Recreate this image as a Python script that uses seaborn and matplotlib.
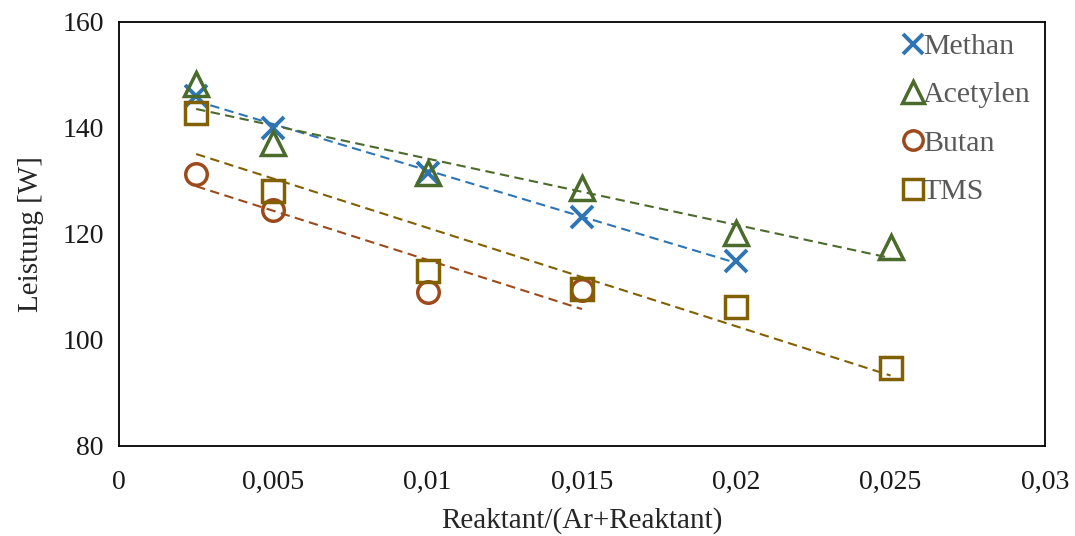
import numpy as np
import pandas as pd
import matplotlib
matplotlib.use("Agg")
import matplotlib.pyplot as plt
import seaborn as sns

# Measured output power vs. reactant fraction in the argon flow
methan_x = [0.0025, 0.005, 0.01, 0.015, 0.02]
methan_y = [146.0, 140.0, 131.5, 123.2, 114.9]

acetylen_x = [0.0025, 0.005, 0.01, 0.015, 0.02, 0.025]
acetylen_y = [148.3, 137.2, 131.5, 128.7, 120.2, 117.5]

butan_x = [0.0025, 0.005, 0.01, 0.015]
butan_y = [131.3, 124.5, 109.1, 109.4]

tms_x = [0.0025, 0.005, 0.01, 0.015, 0.02, 0.025]
tms_y = [142.8, 128.1, 113.0, 109.6, 106.2, 94.7]

series_names = ["Methan", "Acetylen", "Butan", "TMS"]
x_ticks = [0, 0.005, 0.01, 0.015, 0.02, 0.025, 0.03]
x_tick_labels = ["0", "0,005", "0,01", "0,015", "0,02", "0,025", "0,03"]
y_ticks = [80, 100, 120, 140, 160]

colors = {"Methan": "#2E75B6", "Acetylen": "#4B6B2C",
          "Butan": "#9C4A1C", "TMS": "#806000"}
markers = {"Methan": "x", "Acetylen": "^", "Butan": "o", "TMS": "s"}

data = {
    "Methan": (methan_x, methan_y),
    "Acetylen": (acetylen_x, acetylen_y),
    "Butan": (butan_x, butan_y),
    "TMS": (tms_x, tms_y),
}

sns.set_theme(style="white")
plt.rcParams["font.family"] = ["Liberation Serif", "DejaVu Serif"]

fig = plt.figure(figsize=(10.75, 5.36), dpi=100)
ax = fig.add_axes([0.1107, 0.168, 0.8613, 0.791])

# linear trend lines over each series' own range
for name in series_names:
    xs, ys = data[name]
    df = pd.DataFrame({"x": xs, "y": ys})
    sns.regplot(data=df, x="x", y="y", ax=ax, scatter=False, ci=None,
                truncate=True, color=colors[name],
                line_kws={"lw": 1.5, "dashes": (4.5, 2.6), "zorder": 2})

# hollow measurement markers
handles = []
for name in series_names:
    xs, ys = data[name]
    m = markers[name]
    if m == "x":
        h, = ax.plot(xs, ys, ls="none", marker="x", ms=16.5, mew=2.8,
                     color=colors[name], zorder=3, label=name)
    else:
        h, = ax.plot(xs, ys, ls="none", marker=m,
                     ms=17.5 if m == "^" else 15.5,
                     mew=2.5, mfc="none", mec=colors[name], zorder=3, label=name)
    handles.append(h)

ax.set_xlim(0, 0.03)
ax.set_ylim(80, 160)
ax.set_xticks(x_ticks)
ax.set_xticklabels(x_tick_labels)
ax.set_yticks(y_ticks)
ax.tick_params(axis="both", direction="in", length=7, width=1.2,
               labelsize=20, colors="black", labelcolor="#1a1a1a")
ax.tick_params(axis="x", pad=17)
ax.tick_params(axis="y", pad=11)

for sp in ax.spines.values():
    sp.set_visible(True)
    sp.set_color("black")
    sp.set_linewidth(1.3)

ax.set_xlabel("Reaktant/(Ar+Reaktant)", fontsize=21, color="#262626", labelpad=9)
ax.set_ylabel("Leistung [W]", fontsize=21, color="#262626", labelpad=13)

leg = ax.legend(handles=handles, labels=series_names, loc="upper left",
                bbox_to_anchor=(0.8215, 1.03), frameon=False, fontsize=21.5,
                markerscale=0.9, handlelength=0.65, handletextpad=0.0,
                labelspacing=0.72, borderpad=0.3)
for t in leg.get_texts():
    t.set_color("#595959")

fig.savefig("out.png", dpi=100, facecolor="white")
